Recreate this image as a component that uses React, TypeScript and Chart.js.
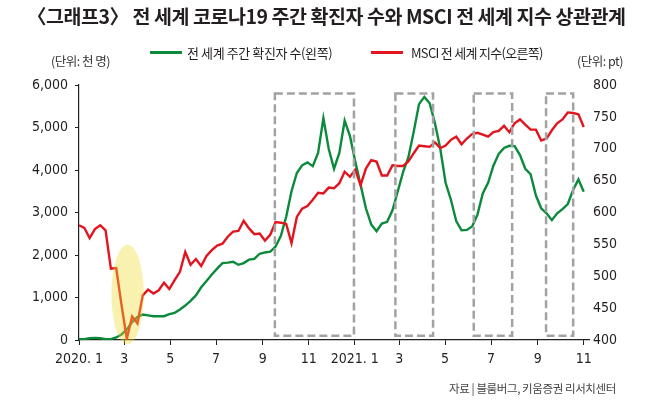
import React, { useEffect, useRef } from "react";
import { Chart, registerables } from "chart.js";

Chart.register(...registerables);

// Weekly values (Jan 2020 – Nov 2021)
const GREEN_CASES = [
  20, 20, 40, 50, 40, 20, 20, 60, 130, 250,
  420, 540, 600, 580, 560, 560, 560, 610, 640, 720,
  810, 920, 1050, 1240, 1390, 1540, 1680, 1810, 1820, 1840,
  1770, 1810, 1890, 1910, 2030, 2060, 2080, 2200, 2450, 2900,
  3500, 3930, 4110, 4180, 4090, 4400, 5220, 4500, 4030, 4400,
  5160, 4800, 4200, 3650, 3100, 2720, 2560, 2740, 2780, 3050,
  3500, 3950, 4300, 4900, 5550, 5720, 5570, 5100, 4500, 3700,
  3300, 2800, 2580, 2590, 2670, 2950, 3450, 3700, 4100, 4380,
  4520, 4570, 4560, 4350, 4030, 3900, 3400, 3100, 2980, 2820,
  2980, 3080, 3200, 3530, 3780, 3490,
];

const MSCI_INDEX = [
  580, 576, 560, 574, 580, 572, 512, 513, 455, 402,
  437, 426, 470, 479, 473, 478, 490, 480, 494, 507,
  538, 518, 527, 516, 532, 541, 548, 551, 562, 570,
  571, 587, 575, 566, 567, 556, 565, 585, 584, 582,
  552, 593, 606, 610, 620, 631, 630, 639, 638, 646,
  664, 656, 667, 643, 669, 682, 680, 658, 658, 674,
  673, 673, 680, 693, 705, 704, 703, 710, 701, 705,
  714, 719, 707, 716, 723, 725, 722, 719, 726, 728,
  736, 726, 740, 746, 738, 730, 730, 713, 716, 729,
  740, 746, 757, 756, 754, 734,
];

// x axis in days since 2020-01-01
const LAST_DATA_DAY = 670;
const X_MAX_DAY = 677;
const TICK_MONTHS: [number, number][] = [
  [2020, 0], [2020, 2], [2020, 4], [2020, 6], [2020, 8], [2020, 10],
  [2021, 0], [2021, 2], [2021, 4], [2021, 6], [2021, 8], [2021, 10],
];
const TICK_LABELS = ["2020. 1", "3", "5", "7", "9", "11", "2021. 1", "3", "5", "7", "9", "11"];

const LEFT_TICKS = { min: 0, max: 6000, step: 1000 };
const RIGHT_TICKS = { min: 400, max: 800, step: 50 };

// highlighted periods (days since 2020-01-01), left-axis value range
const BOXES = [
  { from: 260, to: 365 },
  { from: 420, to: 470 },
  { from: 524, to: 575 },
  { from: 620, to: 656 },
];
const BOX_TOP = 5800;
const BOX_BOTTOM = 100;

const ELLIPSE = { day: 64.5, value: 1070, dayRadius: 21.5, valueRadius: 1170 };

const GREEN = "#0b8a3c";
const RED = "#e2151f";
const INK = "#231f20";
const NUM_FONT = "'Liberation Sans Narrow', 'Arial Narrow', 'DejaVu Sans Condensed', sans-serif";
const KR_FONT = "'Noto Sans CJK KR', sans-serif";

const dayOf = (y: number, m: number) =>
  Math.round((Date.UTC(y, m, 1) - Date.UTC(2020, 0, 1)) / 86400000);

const overlayPlugin = {
  id: "overlays",
  afterDatasetsDraw(chart: any) {
    const { ctx, scales } = chart;
    const x = scales.x;
    const y = scales.yL;
    ctx.save();
    const cx = x.getPixelForValue(ELLIPSE.day);
    const cy = y.getPixelForValue(ELLIPSE.value);
    const rx = Math.abs(x.getPixelForValue(ELLIPSE.day + ELLIPSE.dayRadius) - cx);
    const ry = Math.abs(y.getPixelForValue(ELLIPSE.value + ELLIPSE.valueRadius) - cy);
    ctx.fillStyle = "rgba(240,218,45,0.38)";
    ctx.beginPath();
    ctx.ellipse(cx, cy, rx, ry, 0, 0, Math.PI * 2);
    ctx.fill();

    ctx.strokeStyle = "#a2a2a2";
    ctx.lineWidth = 2.5;
    ctx.setLineDash([8, 4]);
    const t = y.getPixelForValue(BOX_TOP);
    const b = y.getPixelForValue(BOX_BOTTOM);
    BOXES.forEach((bx) => {
      const l = x.getPixelForValue(bx.from);
      const r = x.getPixelForValue(bx.to);
      ctx.strokeRect(l, t, r - l, b - t);
    });
    ctx.restore();
  },
};

export default function App() {
  const ref = useRef<HTMLCanvasElement | null>(null);

  useEffect(() => {
    if (!ref.current) return;
    const step = LAST_DATA_DAY / (GREEN_CASES.length - 1);
    const tickDays = TICK_MONTHS.map(([yy, mm]) => dayOf(yy, mm));
    const chart = new Chart(ref.current, {
      type: "line",
      data: {
        datasets: [
          {
            label: "MSCI 전 세계 지수(오른쪽)",
            data: MSCI_INDEX.map((v, i) => ({ x: i * step, y: v })),
            borderColor: RED,
            borderWidth: 2.4,
            pointRadius: 0,
            tension: 0,
            yAxisID: "yR",
            order: 1,
          },
          {
            label: "전 세계 주간 확진자 수(왼쪽)",
            data: GREEN_CASES.map((v, i) => ({ x: i * step, y: v })),
            borderColor: GREEN,
            borderWidth: 2.4,
            pointRadius: 0,
            tension: 0,
            yAxisID: "yL",
            order: 2,
          },
        ],
      },
      options: {
        animation: false,
        responsive: false,
        layout: { padding: { top: 85, left: 0, right: 0, bottom: 0 } },
        plugins: { legend: { display: false }, tooltip: { enabled: false }, title: { display: false } },
        scales: {
          x: {
            type: "linear",
            min: 0,
            max: X_MAX_DAY,
            afterBuildTicks: (axis: any) => {
              axis.ticks = tickDays.map((v) => ({ value: v }));
            },
            afterFit: (axis: any) => {
              axis.height = 67;
            },
            grid: { drawOnChartArea: false, drawTicks: true, tickLength: 5, color: INK, lineWidth: 1 },
            border: { display: true, color: INK, width: 1.2 },
            ticks: {
              autoSkip: false,
              maxRotation: 0,
              padding: 6,
              color: INK,
              font: { family: NUM_FONT, size: 14 },
              callback: (_v: any, i: number) => TICK_LABELS[i],
            },
          },
          yL: {
            type: "linear",
            position: "left",
            min: LEFT_TICKS.min,
            max: LEFT_TICKS.max,
            afterFit: (axis: any) => {
              axis.width = 79;
            },
            grid: { drawOnChartArea: false, drawTicks: true, tickLength: 4, color: INK, lineWidth: 1 },
            border: { display: true, color: INK, width: 1.2 },
            ticks: {
              stepSize: LEFT_TICKS.step,
              padding: 7,
              color: INK,
              font: { family: NUM_FONT, size: 14 },
              callback: (v: any) => Number(v).toLocaleString("en-US"),
            },
          },
          yR: {
            type: "linear",
            position: "right",
            min: RIGHT_TICKS.min,
            max: RIGHT_TICKS.max,
            afterFit: (axis: any) => {
              axis.width = 61;
            },
            grid: { display: false, drawOnChartArea: false, drawTicks: false },
            border: { display: false },
            ticks: {
              stepSize: RIGHT_TICKS.step,
              padding: 4,
              color: INK,
              font: { family: NUM_FONT, size: 14 },
            },
          },
        },
      },
      plugins: [overlayPlugin],
    });
    return () => chart.destroy();
  }, []);

  const text = (style: React.CSSProperties, content: string) => (
    <div
      style={{
        position: "absolute",
        whiteSpace: "nowrap",
        fontFamily: KR_FONT,
        color: INK,
        lineHeight: 1,
        ...style,
      }}
    >
      {content}
    </div>
  );

  return (
    <div
      style={{
        position: "absolute",
        left: 0,
        top: 0,
        width: 650,
        height: 407,
        background: "#fff",
        overflow: "hidden",
      }}
    >
      <canvas ref={ref} width={650} height={407} style={{ position: "absolute", left: 0, top: 0 }} />
      {text(
        { left: 27, top: 6, fontSize: 19.5, fontWeight: 700, letterSpacing: -0.45 },
        "〈그래프3〉 전 세계 코로나19 주간 확진자 수와 MSCI 전 세계 지수 상관관계"
      )}
      <div style={{ position: "absolute", left: 150, top: 51, width: 32, height: 2.5, background: GREEN }} />
      {text({ left: 187, top: 46, fontSize: 13, letterSpacing: -0.4 }, "전 세계 주간 확진자 수(왼쪽)")}
      <div style={{ position: "absolute", left: 371, top: 51, width: 32, height: 2.5, background: RED }} />
      {text({ left: 411, top: 46, fontSize: 13, letterSpacing: -0.7 }, "MSCI 전 세계 지수(오른쪽)")}
      {text({ left: 51, top: 55, fontSize: 12.5, letterSpacing: -0.5, color: "#333" }, "(단위: 천 명)")}
      {text({ left: 577, top: 55, fontSize: 12.5, letterSpacing: -0.5, color: "#333" }, "(단위: pt)")}
      {text(
        { left: 449, top: 383, fontSize: 11.5, letterSpacing: -0.4, color: "#444" },
        "자료 | 블룸버그, 키움증권 리서치센터"
      )}
    </div>
  );
}
